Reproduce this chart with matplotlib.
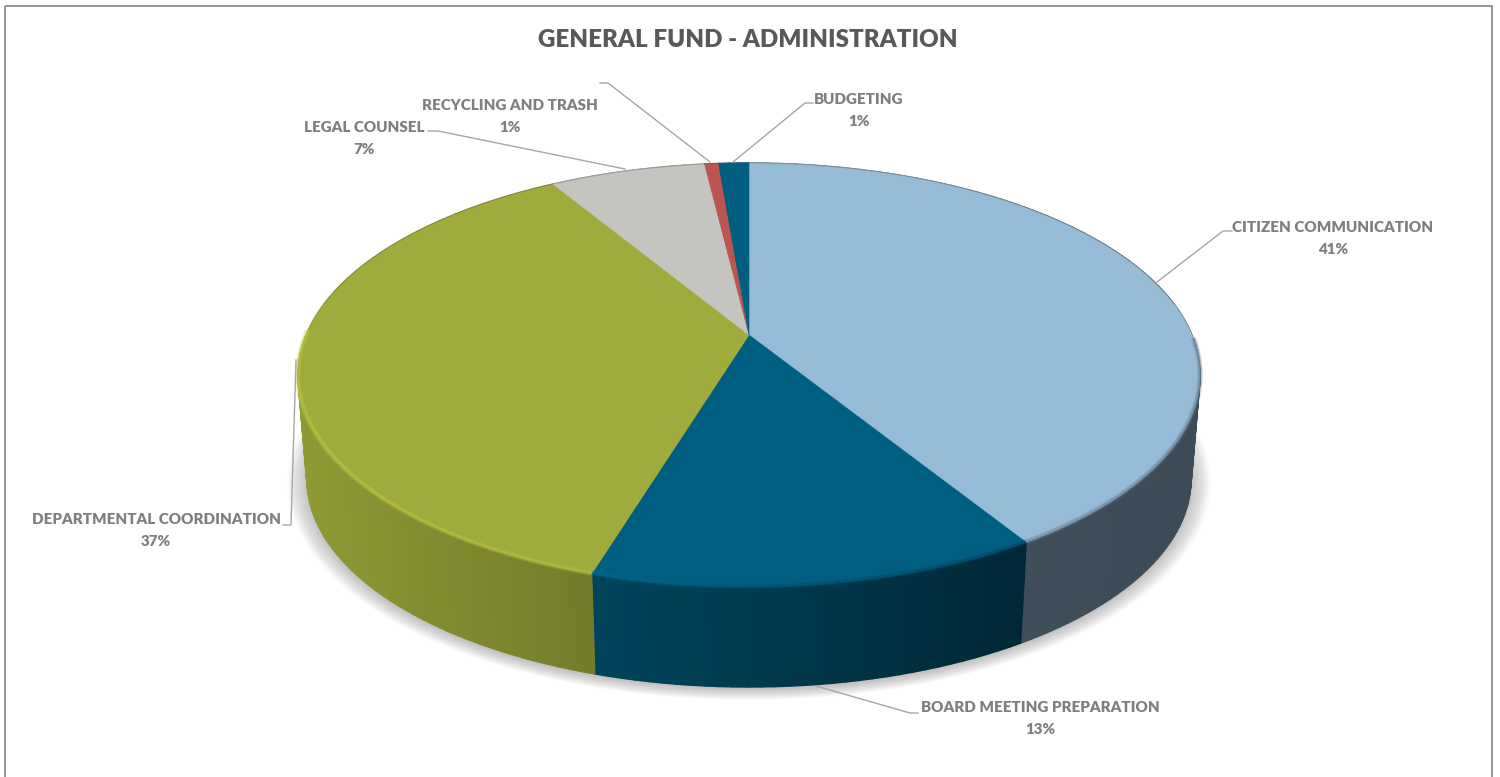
import numpy as np
import matplotlib
matplotlib.use("Agg")
import matplotlib.pyplot as plt
from matplotlib.collections import PolyCollection
from matplotlib.patches import Rectangle

# data (percent of the pie, clockwise from 12 o'clock)
categories = [
    "CITIZEN COMMUNICATION",
    "BOARD MEETING PREPARATION",
    "DEPARTMENTAL COORDINATION",
    "LEGAL COUNSEL",
    "RECYCLING AND TRASH",
    "BUDGETING",
]
shares = [41.2, 13.5, 36.7, 6.7, 0.6, 1.3]
percent_labels = ["41%", "13%", "37%", "7%", "1%", "1%"]
colors = ["#96BBD6", "#005F80", "#9FAB3A", "#C4C4C0", "#BC5550", "#005F80"]

# label layout, pixels: text centre x, first line y, leader line
label_pos = [(1333, 227), (1040, 708), (156, 520), (364, 128), (510, 106), (859, 99)]
leaders = [
    [(1157, 282), (1223, 231), (1232, 231)],
    [(816, 686), (910, 713), (918, 713)],
    [(296, 360), (291, 525), (283, 525)],
    [(625, 169), (438, 131), (428, 131)],
    [(710, 162), (608, 83), (600, 83)],
    [(733, 162), (805, 103), (813, 103)],
]

# perspective of the pie disc
CX, CY = 749, 335
RX, RY, K = 443, 204.5, -0.1887
DROP, SHRINK = 105, 0.98


def project(angle):
    """top face point for an angle (radians, clockwise from the back)"""
    u, v = np.sin(angle), -np.cos(angle)
    w = 1 + K * v
    return CX + RX * u / w, CY + RY * v / w


def project_bottom(angle):
    x, y = project(angle)
    return CX + SHRINK * (x - CX), CY + DROP + SHRINK * (y - CY)


def side_shade(x):
    return np.interp(x, [300, 595, 1020, 1200], [0.9, 0.72, 0.42, 0.40])


def scaled(color, f):
    return tuple(np.clip(np.array(matplotlib.colors.to_rgb(color)) * f, 0, 1))


fig = plt.figure(figsize=(15, 7.77), dpi=100)
ax = fig.add_axes([0, 0, 1, 1])
ax.set_xlim(0, 1500)
ax.set_ylim(777, 0)
ax.axis("off")
# frame runs off the bottom of the picture
ax.add_patch(Rectangle((4.5, 6), 1487, 790, fill=False, ec="#8C8C8C", lw=1.3, clip_on=True))

# soft shadow under the disc
full = np.linspace(0, 2 * np.pi, 361)
bx, by = project_bottom(full)
for e in np.linspace(0.044, 0.0, 18):
    ax.fill(CX + (bx - CX) * (1 + e), CY + DROP + (by - CY - DROP) * (1 + e) + 2,
            color="#777777", alpha=0.026, lw=0, zorder=1)

edges = np.cumsum([0] + shares) / sum(shares) * 2 * np.pi

# side wall, split in thin strips to get the horizontal gradient
for i, color in enumerate(colors):
    a = np.linspace(edges[i], edges[i + 1], max(4, int((edges[i + 1] - edges[i]) * 40)))
    tx, ty = project(a)
    ux, uy = project_bottom(a)
    quads, cols = [], []
    for j in range(len(a) - 1):
        quads.append([(tx[j], ty[j]), (tx[j + 1], ty[j + 1]), (ux[j + 1], uy[j + 1]), (ux[j], uy[j])])
        cols.append(scaled(color, side_shade((tx[j] + tx[j + 1]) / 2)))
    ax.add_collection(PolyCollection(quads, facecolors=cols, edgecolors=cols, linewidths=1.0, zorder=2))

# top face
for i, color in enumerate(colors):
    a = np.linspace(edges[i], edges[i + 1], 200)
    tx, ty = project(a)
    ax.fill(np.r_[CX, tx], np.r_[CY, ty], color=color, lw=0.4, zorder=3)

# rim: light on the left, soft and dark to the right
for i, color in enumerate(colors):
    a = np.linspace(edges[i], edges[i + 1], 200)
    tx, ty = project(a)
    for j in range(0, len(a) - 1, 2):
        if np.cos(a[j]) > 0:
            continue
        f = np.interp(tx[j], [300, 595, 800, 1200], [1.2, 1.14, 0.8, 0.62])
        for lw, alpha in [(4.0, 0.22), (2.4, 0.4)]:
            ax.plot(tx[j:j + 3], ty[j:j + 3] - 0.5, color=scaled(color, f), lw=lw, alpha=alpha,
                    solid_capstyle="butt", zorder=4)

# thin edge along the back of the disc
tx, ty = project(np.linspace(-np.pi * 0.45, np.pi * 0.45, 200))
ax.plot(tx, ty, color="#666666", lw=0.7, alpha=0.35, zorder=4)

for pts in leaders:
    ax.plot(*zip(*pts), color="#A6A6A6", lw=1.0, zorder=5)

font = dict(family="Lato", fontweight="heavy", ha="center", va="center")
ax.text(748, 40, "GENERAL FUND - ADMINISTRATION", color="#595959", fontsize=17.4, **font)
for name, pct, (x, y) in zip(categories, percent_labels, label_pos):
    ax.text(x, y, name, color="#7F7F7F", fontsize=10.9, **font)
    ax.text(x, y + 22, pct, color="#7F7F7F", fontsize=10.9, **font)

fig.savefig("out.png", dpi=100)
